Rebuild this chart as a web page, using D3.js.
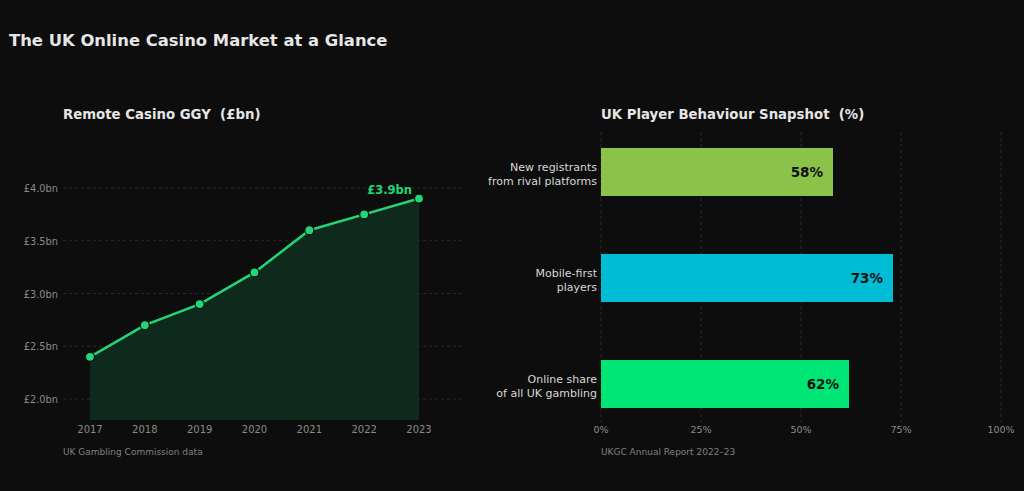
<!DOCTYPE html>
<html>
<head>
<meta charset="utf-8">
<script src="https://cdn.jsdelivr.net/npm/d3@7"></script>
<style>
  html, body { margin: 0; padding: 0; background: #0d0d0d; }
  svg { display: block; font-family: "DejaVu Sans", sans-serif; }
  text { white-space: pre; }
</style>
</head>
<body>
<div id="chart"></div>
<script>
// Data
var years = [2017, 2018, 2019, 2020, 2021, 2022, 2023];
var ggy = [2.4, 2.7, 2.9, 3.2, 3.6, 3.75, 3.9];
var yTicks = [2.0, 2.5, 3.0, 3.5, 4.0];

var categories = ["New registrants\nfrom rival platforms", "Mobile-first\nplayers", "Online share\nof all UK gambling"];
var shares = [58, 73, 62];
var barColors = ["#8bc34a", "#00bcd4", "#00e676"];
var xTicks = [0, 25, 50, 75, 100];

var W = 1024, H = 491;
var bg = "#0d0d0d", green = "#22d676";

var svg = d3.select("#chart").append("svg")
    .attr("width", W)
    .attr("height", H);

svg.append("rect").attr("width", W).attr("height", H).attr("fill", bg);

svg.append("text")
    .attr("x", 9).attr("y", 46)
    .attr("fill", "#e6e6e6")
    .style("font-size", "16.4px").style("font-weight", "bold")
    .text("The UK Online Casino Market at a Glance");

// ---------- Left: line chart ----------
var L = { left: 63, right: 463 };

var x = d3.scaleLinear().domain([2017, 2023]).range([90, 419]);
var y = d3.scaleLinear().domain([2.0, 4.0]).range([399, 188]);
var yMin = 1.8;

svg.append("text")
    .attr("x", L.left).attr("y", 119)
    .attr("fill", "#e6e6e6")
    .style("font-size", "13.3px").style("font-weight", "bold")
    .text("Remote Casino GGY  (£bn)");

// gridlines
svg.append("g").selectAll("line")
    .data(yTicks).enter().append("line")
    .attr("x1", L.left).attr("x2", L.right)
    .attr("y1", function (d) { return y(d); })
    .attr("y2", function (d) { return y(d); })
    .attr("stroke", "#333")
    .attr("stroke-width", 0.8)
    .attr("stroke-dasharray", "3,3");

// area
var area = d3.area()
    .x(function (d, i) { return x(years[i]); })
    .y0(y(yMin))
    .y1(function (d) { return y(d); });

svg.append("path")
    .datum(ggy)
    .attr("d", area)
    .attr("fill", "#0e2a1c");

var line = d3.line()
    .x(function (d, i) { return x(years[i]); })
    .y(function (d) { return y(d); });

svg.append("path")
    .datum(ggy)
    .attr("d", line)
    .attr("fill", "none")
    .attr("stroke", green)
    .attr("stroke-width", 2.5);

svg.append("g").selectAll("circle")
    .data(ggy).enter().append("circle")
    .attr("cx", function (d, i) { return x(years[i]); })
    .attr("cy", function (d) { return y(d); })
    .attr("r", 4.5)
    .attr("fill", green)
    .attr("stroke", bg)
    .attr("stroke-width", 1.2);

// last value label
svg.append("text")
    .attr("x", x(years[years.length - 1]) - 7)
    .attr("y", y(ggy[ggy.length - 1]) - 5)
    .attr("text-anchor", "end")
    .attr("fill", green)
    .style("font-size", "11.5px").style("font-weight", "bold")
    .text("£" + ggy[ggy.length - 1].toFixed(1) + "bn");

// y axis labels
svg.append("g").selectAll("text")
    .data(yTicks).enter().append("text")
    .attr("x", 58)
    .attr("y", function (d) { return y(d) + 4; })
    .attr("text-anchor", "end")
    .attr("fill", "#8a8a8a")
    .style("font-size", "9.8px")
    .text(function (d) { return "£" + d.toFixed(1) + "bn"; });

// x axis labels
svg.append("g").selectAll("text")
    .data(years).enter().append("text")
    .attr("x", function (d) { return x(d); })
    .attr("y", 433)
    .attr("text-anchor", "middle")
    .attr("fill", "#8a8a8a")
    .style("font-size", "10px")
    .text(function (d) { return d; });

svg.append("text")
    .attr("x", L.left).attr("y", 455)
    .attr("fill", "#808080")
    .style("font-size", "9px")
    .text("UK Gambling Commission data");

// ---------- Right: bar chart ----------
var bx = d3.scaleLinear().domain([0, 100]).range([601, 1001]);
var by = d3.scaleBand().domain(categories).range([122, 434])
    .paddingInner(0.547).paddingOuter(0.245);

svg.append("text")
    .attr("x", 601).attr("y", 119)
    .attr("fill", "#e6e6e6")
    .style("font-size", "13.3px").style("font-weight", "bold")
    .text("UK Player Behaviour Snapshot  (%)");

svg.append("g").selectAll("line")
    .data(xTicks).enter().append("line")
    .attr("x1", function (d) { return bx(d); })
    .attr("x2", function (d) { return bx(d); })
    .attr("y1", 132).attr("y2", 422)
    .attr("stroke", "#333")
    .attr("stroke-width", 0.8)
    .attr("stroke-dasharray", "3,3");

svg.append("g").selectAll("rect")
    .data(shares).enter().append("rect")
    .attr("x", bx(0))
    .attr("y", function (d, i) { return by(categories[i]); })
    .attr("width", function (d) { return bx(d) - bx(0); })
    .attr("height", by.bandwidth())
    .attr("fill", function (d, i) { return barColors[i]; });

svg.append("g").selectAll("text")
    .data(shares).enter().append("text")
    .attr("x", function (d) { return bx(d) - 10; })
    .attr("y", function (d, i) { return by(categories[i]) + by.bandwidth() / 2 + 5; })
    .attr("text-anchor", "end")
    .attr("fill", "#111")
    .style("font-size", "13.5px").style("font-weight", "bold")
    .text(function (d) { return d + "%"; });

var cat = svg.append("g").selectAll("text")
    .data(categories).enter().append("text")
    .attr("text-anchor", "end")
    .attr("fill", "#d8d8d8")
    .style("font-size", "11px")
    .attr("transform", function (d) {
        return "translate(597," + (by(d) + by.bandwidth() / 2) + ")";
    });
cat.each(function (d) {
    var parts = d.split("\n");
    var t = d3.select(this);
    parts.forEach(function (p, k) {
        t.append("tspan").attr("x", 0)
            .attr("y", (k - (parts.length - 1) / 2) * 14 + 6)
            .text(p);
    });
});

svg.append("g").selectAll("text")
    .data(xTicks).enter().append("text")
    .attr("x", function (d) { return bx(d); })
    .attr("y", 433)
    .attr("text-anchor", "middle")
    .attr("fill", "#8a8a8a")
    .style("font-size", "9.5px")
    .text(function (d) { return d + "%"; });

svg.append("text")
    .attr("x", 601).attr("y", 455)
    .attr("fill", "#808080")
    .style("font-size", "9px")
    .text("UKGC Annual Report 2022–23");
</script>
</body>
</html>
